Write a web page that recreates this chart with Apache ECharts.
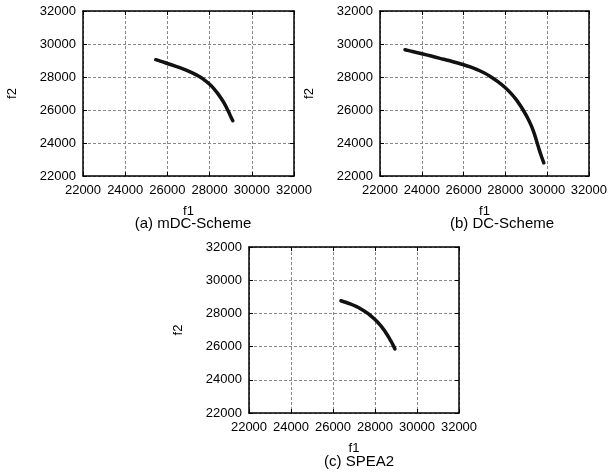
<!DOCTYPE html>
<html style="height: 100%">
<head>
    <meta charset="utf-8">
</head>
<body style="height: 100%; margin: 0; background: #fff">
<div id="container" style="width: 610px; height: 472px"></div>
<script type="text/javascript" src="https://cdn.jsdelivr.net/npm/echarts@6.0.0/dist/echarts.min.js"></script>
<script type="text/javascript">
  const mdcScheme = [
    [25450, 29050], [25700, 28950], [26000, 28820], [26370, 28660], [26740, 28490],
    [27050, 28330], [27370, 28130], [27570, 27980], [27760, 27810], [28000, 27560],
    [28200, 27300], [28390, 26990], [28560, 26680], [28710, 26370], [28810, 26120],
    [28910, 25860], [29000, 25610], [29100, 25350]
  ];
  const dcScheme = [
    [23200, 29650], [23600, 29530], [24000, 29410], [24450, 29270], [24875, 29130],
    [25450, 28940], [26000, 28740], [26320, 28610], [26625, 28460], [26950, 28270],
    [27260, 28050], [27640, 27720], [28000, 27350], [28280, 26990], [28530, 26610],
    [28700, 26300], [28850, 26000], [29060, 25530], [29250, 25020], [29380, 24580],
    [29490, 24140], [29620, 23600], [29730, 23180], [29840, 22800]
  ];
  const spea2 = [
    [26380, 28760], [26600, 28670], [26820, 28570], [27100, 28420], [27370, 28240],
    [27570, 28080], [27760, 27900], [28000, 27630], [28160, 27420], [28310, 27200],
    [28440, 26980], [28550, 26770], [28650, 26570], [28740, 26370], [28850, 26120],
    [28950, 25860]
  ];
  const captions = ['(a) mDC-Scheme', '(b) DC-Scheme', '(c) SPEA2'];
  const axisTicks = [22000, 24000, 26000, 28000, 30000, 32000];

  const font = 'Liberation Sans, Arial, sans-serif';
  const grids = [
    { left: 83, top: 11, width: 211, height: 165 },
    { left: 380, top: 11, width: 209, height: 165 },
    { left: 249, top: 247, width: 210, height: 166 }
  ];
  const captionPos = [[188, 211], [497, 211], [354, 449]];
  const fronts = [mdcScheme, dcScheme, spea2];

  function axis(kind, gridIndex, mirror) {
    const a = {
      type: 'value',
      gridIndex: gridIndex,
      min: axisTicks[0],
      max: axisTicks[axisTicks.length - 1],
      interval: 2000,
      axisLine: { show: true, lineStyle: { color: '#000', width: 1.5 } },
      axisTick: { show: true, inside: true, length: 4, lineStyle: { color: '#000' } },
      axisLabel: {
        show: !mirror, color: '#000', fontFamily: font, fontSize: 13,
        formatter: function (v) { return String(v); }
      },
      splitLine: { show: false }
    };
    if (mirror) {
      a.position = kind === 'x' ? 'top' : 'right';
      return a;
    }
    a.splitLine = { show: true, lineStyle: { color: '#888', type: [3, 2], width: 1 } };
    a.name = kind === 'x' ? 'f1' : 'f2';
    a.nameLocation = 'middle';
    a.nameTextStyle = { color: '#000', fontFamily: font, fontSize: 13 };
    if (kind === 'x') {
      a.nameGap = 29;
      a.axisLabel.margin = 8;
    } else {
      a.nameGap = 64;
      a.axisLabel.margin = 7;
    }
    return a;
  }

  const xAxes = [], yAxes = [], series = [];
  grids.forEach(function (g, i) {
    xAxes.push(axis('x', i, false), axis('x', i, true));
    yAxes.push(axis('y', i, false), axis('y', i, true));
    series.push({
      type: 'line',
      xAxisIndex: i * 2,
      yAxisIndex: i * 2,
      data: fronts[i],
      smooth: 0.3,
      showSymbol: false,
      lineStyle: { color: '#111', width: 3.5, cap: 'round' },
      animation: false
    });
    series.push({
      type: 'scatter',
      xAxisIndex: i * 2,
      yAxisIndex: i * 2,
      data: fronts[i],
      symbol: 'diamond',
      symbolSize: 3,
      itemStyle: { color: '#444' },
      animation: false
    });
  });

  var myChart = echarts.init(document.getElementById('container'));
  var option = {
    backgroundColor: '#fff',
    textStyle: { fontFamily: font },
    grid: grids,
    xAxis: xAxes,
    yAxis: yAxes,
    title: captions.map(function (c, i) {
      return {
        text: c,
        left: captionPos[i][0],
        top: captionPos[i][1],
        textAlign: 'center',
        textStyle: { color: '#000', fontFamily: font, fontSize: 15, fontWeight: 'normal' }
      };
    }),
    series: series
  };
  myChart.setOption(option);
</script>
</body>
</html>
